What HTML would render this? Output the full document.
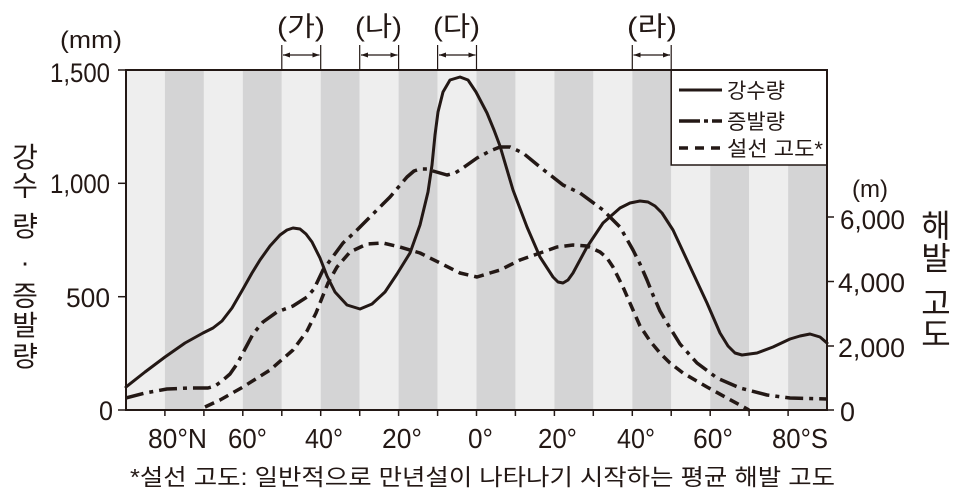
<!DOCTYPE html>
<html>
<head>
<meta charset="utf-8">
<style>
html,body{margin:0;padding:0;background:#fff;}
svg{display:block;}
text{font-family:"Liberation Sans","Noto Sans CJK KR",sans-serif;fill:#231815;}
</style>
</head>
<body>
<svg width="963" height="495" viewBox="0 0 963 495" xmlns="http://www.w3.org/2000/svg">
<rect x="0" y="0" width="963" height="495" fill="#fff"/>
<!-- stripes -->
<g>
<rect x="126" y="70" width="38.95" height="340" fill="#eeeeee"/>
<rect x="164.9" y="70" width="39" height="340" fill="#d4d4d5"/>
<rect x="203.9" y="70" width="39" height="340" fill="#eeeeee"/>
<rect x="242.8" y="70" width="39" height="340" fill="#d4d4d5"/>
<rect x="281.8" y="70" width="39" height="340" fill="#eeeeee"/>
<rect x="320.7" y="70" width="39" height="340" fill="#d4d4d5"/>
<rect x="359.7" y="70" width="39" height="340" fill="#eeeeee"/>
<rect x="398.6" y="70" width="39" height="340" fill="#d4d4d5"/>
<rect x="437.6" y="70" width="39" height="340" fill="#eeeeee"/>
<rect x="476.5" y="70" width="39" height="340" fill="#d4d4d5"/>
<rect x="515.4" y="70" width="39" height="340" fill="#eeeeee"/>
<rect x="554.4" y="70" width="39" height="340" fill="#d4d4d5"/>
<rect x="593.3" y="70" width="39" height="340" fill="#eeeeee"/>
<rect x="632.3" y="70" width="39" height="340" fill="#d4d4d5"/>
<rect x="671.2" y="70" width="39" height="340" fill="#eeeeee"/>
<rect x="710.2" y="70" width="39" height="340" fill="#d4d4d5"/>
<rect x="749.1" y="70" width="39" height="340" fill="#eeeeee"/>
<rect x="788.1" y="70" width="38.9" height="340" fill="#d4d4d5"/>
</g>

<!-- curves -->
<g fill="none" stroke="#231815" stroke-linejoin="round">
<polyline stroke-width="3.5" stroke-dasharray="10 6" points="205,407 220,400 243,387 270,370 293,350 307,331 316,313 328,283 337,267 350,252 367,244 383,243 400,247 420,253 440,263 460,273 477,277 490,273 500,270 520,260 540,253 557,247 573,245 587,246 600,252 607,258 613,267 623,287 633,310 640,326 650,341 660,353 670,363 683,373 707,387 727,398 749,410"/>
<polyline stroke-width="3.5" stroke-dasharray="18 6 4 6" points="126,398 145,393 167,389 190,388 208,388 215,386 222,381 230,374 237,364 245,349 253,334 263,322 277,312 293,306 307,297 314,289 323,270 343,243 355,232 367,220 390,197 407,177 414,171 420,169 427,169 433,171 447,175 455,173 460,170 477,158 490,151 500,147 510,147 523,153 540,167 563,185 580,193 603,210 620,227 633,250 640,264 647,280 653,295 660,311 667,323 680,344 697,363 717,378 740,388 767,395 790,398 827,399"/>
<polyline stroke-width="3" stroke-linecap="round" points="126,387 145,372 165,357 185,343 203,333 213,328 222,321 232,308 243,289 252,273 260,260 270,246 280,235 287,230 293,228 300,229 306,234 312,242 320,258 327,276 335,292 347,305 360,309 372,304 385,292 397,274 410,253 420,225 428,192 432,165 435,135 438,112 443,92 450,80 460,77 468,80 476,92 487,113 494,130 500,146 513,190 527,227 540,257 553,277 558,282 563,283 568,280 573,273 587,247 603,223 620,208 630,203 640,201 648,202 655,206 662,213 673,230 680,245 693,273 707,303 720,333 728,346 735,353 742,355 757,353 773,347 790,339 800,336 810,334 820,337 827,343"/>
</g>

<!-- legend box -->
<rect x="671.2" y="70" width="155.8" height="95" fill="#fff" stroke="#231815" stroke-width="1.5"/>
<g stroke="#231815" fill="none">
<line x1="679" y1="90" x2="722" y2="90" stroke-width="3"/>
<line x1="679" y1="121" x2="700" y2="121" stroke-width="3.5"/>
<line x1="704" y1="121" x2="708" y2="121" stroke-width="3.5"/>
<line x1="712" y1="121" x2="722" y2="121" stroke-width="3.5"/>
<line x1="679" y1="148" x2="688" y2="148" stroke-width="3.5"/>
<line x1="695" y1="148" x2="704" y2="148" stroke-width="3.5"/>
<line x1="711" y1="148" x2="720" y2="148" stroke-width="3.5"/>
</g>
<text x="727" y="98" font-size="21" textLength="58" lengthAdjust="spacingAndGlyphs">강수량</text>
<text x="727" y="129" font-size="21" textLength="58" lengthAdjust="spacingAndGlyphs">증발량</text>
<text x="727" y="156" font-size="21" textLength="96" lengthAdjust="spacingAndGlyphs">설선 고도*</text>

<!-- frame -->
<rect x="126" y="70" width="701" height="340" fill="none" stroke="#231815" stroke-width="2"/>

<!-- ticks -->
<g stroke="#231815" stroke-width="1.5">
<line x1="118" y1="70" x2="126" y2="70"/>
<line x1="118" y1="183.3" x2="126" y2="183.3"/>
<line x1="118" y1="296.7" x2="126" y2="296.7"/>
<line x1="118" y1="410" x2="126" y2="410"/>
<line x1="827" y1="217" x2="834" y2="217"/>
<line x1="827" y1="281.5" x2="834" y2="281.5"/>
<line x1="827" y1="346" x2="834" y2="346"/>
<line x1="827" y1="410" x2="834" y2="410"/>
<line x1="164.9" y1="410" x2="164.9" y2="416"/>
<line x1="203.9" y1="410" x2="203.9" y2="416"/>
<line x1="242.8" y1="410" x2="242.8" y2="416"/>
<line x1="281.8" y1="410" x2="281.8" y2="416"/>
<line x1="320.7" y1="410" x2="320.7" y2="416"/>
<line x1="359.7" y1="410" x2="359.7" y2="416"/>
<line x1="398.6" y1="410" x2="398.6" y2="416"/>
<line x1="437.6" y1="410" x2="437.6" y2="416"/>
<line x1="476.5" y1="410" x2="476.5" y2="416"/>
<line x1="515.4" y1="410" x2="515.4" y2="416"/>
<line x1="554.4" y1="410" x2="554.4" y2="416"/>
<line x1="593.3" y1="410" x2="593.3" y2="416"/>
<line x1="632.3" y1="410" x2="632.3" y2="416"/>
<line x1="671.2" y1="410" x2="671.2" y2="416"/>
<line x1="710.2" y1="410" x2="710.2" y2="416"/>
<line x1="749.1" y1="410" x2="749.1" y2="416"/>
<line x1="788.1" y1="410" x2="788.1" y2="416"/>
</g>

<!-- top range markers -->
<g stroke="#231815" stroke-width="1.2">
<line x1="281.8" y1="45" x2="281.8" y2="70"/><line x1="320.7" y1="45" x2="320.7" y2="70"/>
<line x1="283" y1="55" x2="319.5" y2="55"/>
<line x1="359.7" y1="45" x2="359.7" y2="70"/><line x1="398.6" y1="45" x2="398.6" y2="70"/>
<line x1="361" y1="55" x2="397.5" y2="55"/>
<line x1="437.6" y1="45" x2="437.6" y2="70"/><line x1="476.5" y1="45" x2="476.5" y2="70"/>
<line x1="439" y1="55" x2="475.5" y2="55"/>
<line x1="632.3" y1="45" x2="632.3" y2="70"/><line x1="671.2" y1="45" x2="671.2" y2="70"/>
<line x1="633.5" y1="55" x2="670" y2="55"/>
</g>
<g fill="#231815">
<polygon points="283,55 290,52.5 290,57.5"/><polygon points="319.5,55 312.5,52.5 312.5,57.5"/>
<polygon points="361,55 368,52.5 368,57.5"/><polygon points="397.5,55 390.5,52.5 390.5,57.5"/>
<polygon points="439,55 446,52.5 446,57.5"/><polygon points="475.5,55 468.5,52.5 468.5,57.5"/>
<polygon points="633.5,55 640.5,52.5 640.5,57.5"/><polygon points="670,55 663,52.5 663,57.5"/>
</g>
<text x="277" y="36" font-size="27" textLength="48" lengthAdjust="spacingAndGlyphs">(가)</text>
<text x="355" y="36" font-size="27" textLength="47" lengthAdjust="spacingAndGlyphs">(나)</text>
<text x="433" y="36" font-size="27" textLength="47" lengthAdjust="spacingAndGlyphs">(다)</text>
<text x="627" y="36" font-size="27" textLength="50" lengthAdjust="spacingAndGlyphs">(라)</text>

<!-- left axis labels -->
<text x="60" y="48" font-size="24" textLength="62" lengthAdjust="spacingAndGlyphs">(mm)</text>
<text x="50" y="82" font-size="27" textLength="60" lengthAdjust="spacingAndGlyphs">1,500</text>
<text x="50" y="193" font-size="27" textLength="60" lengthAdjust="spacingAndGlyphs">1,000</text>
<text x="66" y="307" font-size="27" textLength="44" lengthAdjust="spacingAndGlyphs">500</text>
<text x="99" y="420" font-size="27" textLength="14" lengthAdjust="spacingAndGlyphs">0</text>

<!-- right axis labels -->
<text x="852" y="197" font-size="24" textLength="36" lengthAdjust="spacingAndGlyphs">(m)</text>
<text x="840" y="229" font-size="27" textLength="65" lengthAdjust="spacingAndGlyphs">6,000</text>
<text x="838" y="292" font-size="27" textLength="67" lengthAdjust="spacingAndGlyphs">4,000</text>
<text x="838" y="357" font-size="27" textLength="67" lengthAdjust="spacingAndGlyphs">2,000</text>
<text x="840" y="421" font-size="27" textLength="15" lengthAdjust="spacingAndGlyphs">0</text>

<!-- bottom labels -->
<text x="148" y="448" font-size="28" textLength="59" lengthAdjust="spacingAndGlyphs">80°N</text>
<text x="228" y="448" font-size="28" textLength="39" lengthAdjust="spacingAndGlyphs">60°</text>
<text x="305" y="448" font-size="28" textLength="38" lengthAdjust="spacingAndGlyphs">40°</text>
<text x="382" y="448" font-size="28" textLength="40" lengthAdjust="spacingAndGlyphs">20°</text>
<text x="468" y="448" font-size="28" textLength="25" lengthAdjust="spacingAndGlyphs">0°</text>
<text x="538" y="448" font-size="28" textLength="39" lengthAdjust="spacingAndGlyphs">20°</text>
<text x="617" y="448" font-size="28" textLength="38" lengthAdjust="spacingAndGlyphs">40°</text>
<text x="693" y="448" font-size="28" textLength="40" lengthAdjust="spacingAndGlyphs">60°</text>
<text x="772" y="448" font-size="28" textLength="56" lengthAdjust="spacingAndGlyphs">80°S</text>

<!-- left vertical title -->
<g font-size="28" text-anchor="middle" dominant-baseline="central">
<text x="25" y="157.5">강</text>
<text x="25" y="186">수</text>
<text x="25" y="226.5">량</text>
<text x="25" y="262">·</text>
<text x="25" y="296">증</text>
<text x="25" y="325.5">발</text>
<text x="25" y="356.5">량</text>
</g>

<!-- right vertical title -->
<g font-size="32" text-anchor="middle" dominant-baseline="central">
<text x="936" y="226">해</text>
<text x="936" y="258.5">발</text>
<text x="936" y="303.5">고</text>
<text x="936" y="334.5">도</text>
</g>

<!-- footnote -->
<text x="130" y="485" font-size="23" textLength="705" lengthAdjust="spacingAndGlyphs">*설선 고도: 일반적으로 만년설이 나타나기 시작하는 평균 해발 고도</text>
</svg>
</body>
</html>
